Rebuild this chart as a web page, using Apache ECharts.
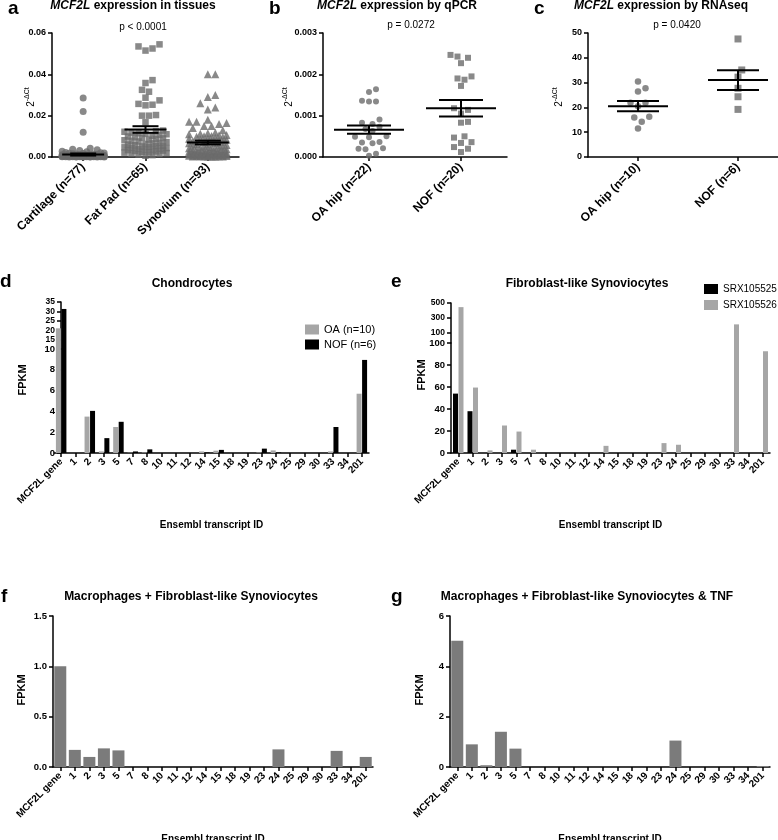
<!DOCTYPE html>
<html><head><meta charset="utf-8">
<script src="https://cdn.jsdelivr.net/npm/echarts@6/dist/echarts.min.js"></script>
<style>html,body{margin:0;padding:0;background:#fff}#c{width:778px;height:840px}</style>
</head><body><div id="c"></div>
<script>
// ---------------- data ----------------
const tissueCats = ['Cartilage (n=77)', 'Fat Pad (n=65)', 'Synovium (n=93)'];
const cartilage = [0.0285,0.022,0.012,0.0042,0.0038,0.0035,0.0031,0.0028,0.0025,0.0022,
  0.002,0.0019,0.0018,0.0017,0.0016,0.0015,0.0014,0.0013,0.0012,0.0012,
  0.0011,0.0011,0.001,0.001,0.0009,0.0009,0.0009,0.0008,0.0008,0.0008,
  0.0007,0.0007,0.0007,0.0007,0.0006,0.0006,0.0006,0.0006,0.0005,0.0005,
  0.0005,0.0005,0.0005,0.0004,0.0004,0.0004,0.0004,0.0004,0.0003,0.0003,
  0.0003,0.0003,0.0003,0.0003,0.0002,0.0002,0.0002,0.0002,0.0002,0.0002,
  0.0002,0.0001,0.0001,0.0001,0.0001,0.0001,0.0001,0.0001,0.0001,0.0001,
  0.0001,0.00005,0.00005,0.00005,0.00005,0.00005,0.00005];
const fatPad = [0.0535,0.0515,0.0525,0.0545,0.0372,0.0358,0.0325,0.0316,0.0287,0.0274,
  0.025,0.0253,0.0257,0.020,0.0203,0.020,0.0168,
  0.0128,0.0125,0.0122,0.0118,0.0115,0.0112,0.011,0.0106,0.0102,0.0099,
  0.0096,0.0093,0.009,0.0087,0.0084,0.0081,0.0078,0.0075,0.0072,0.0069,
  0.0066,0.0063,0.006,0.0057,0.0055,0.0053,0.0051,0.0049,0.0047,0.0045,
  0.0043,0.0041,0.0039,0.0037,0.0035,0.0033,0.0031,0.0029,0.0027,0.0025,
  0.0023,0.0021,0.0019,0.0017,0.0015,0.0012,0.0009,0.0006];
const synovium = [0.040,0.040,0.030,0.029,0.026,0.024,0.023,0.018,0.017,0.017,0.0165,0.016,0.015,0.015,0.014,0.013,
  0.0118,0.0115,0.0112,0.011,0.0107,0.0105,0.0102,0.01,0.0098,0.0096,
  0.0093,0.0091,0.0088,0.0086,0.0083,0.0081,0.0078,0.0076,0.0073,0.0071,
  0.0068,0.0066,0.0063,0.0061,0.0058,0.0056,0.0054,0.0052,0.005,0.0048,
  0.0046,0.0044,0.0042,0.004,0.0038,0.0036,0.0035,0.0033,0.0032,0.003,
  0.0029,0.0027,0.0026,0.0025,0.0023,0.0022,0.0021,0.002,0.0019,0.0018,
  0.0017,0.0016,0.0015,0.0014,0.0013,0.0012,0.0011,0.001,0.001,0.0009,
  0.0009,0.0008,0.0008,0.0007,0.0007,0.0006,0.0006,0.0005,0.0005,0.0004,
  0.0004,0.0003,0.0003,0.0002,0.0002,0.0001,0.0001];
const tissueMean = [0.0012, 0.0133, 0.0070];
const tissueSem = [0.0005, 0.0016, 0.0009];

const qpcrCats = ['OA hip (n=22)', 'NOF (n=20)'];
const qpcrOA = [0.00164,0.00157,0.00136,0.00134,0.00134,0.00091,0.00083,0.00080,0.00073,0.00068,0.00063,
  0.00050,0.00049,0.00048,0.00036,0.00035,0.00033,0.00021,0.00019,0.00020,0.00008,0.00003];
const qpcrNOF = [0.00247,0.00243,0.0024,0.00227,0.00195,0.0019,0.00187,0.00172,0.00118,0.00114,
  0.00105,0.00085,0.00083,0.0005,0.00047,0.00036,0.00034,0.00024,0.0002,0.00012];
const qpcrMean = [0.00066, 0.00118];
const qpcrSem = [0.0001, 0.0002];

const rnaCats = ['OA hip (n=10)', 'NOF (n=6)'];
const rnaOA = [30.4,27.7,26.4,21.9,21.9,20.5,16.2,15.9,14.2,11.5];
const rnaNOF = [47.6,35.1,32.2,27.7,24.3,19.2];
const rnaMean = [20.5, 31.0];
const rnaSem = [2.1, 4.0];

const transcripts = ['MCF2L gene','1','2','3','5','7','8','10','11','12','14','15','18','19','23','24','25','29','30','33','34','201'];
const chondOA  = [21, 0, 3.5, 0.15, 2.5, 0.03, 0.05, 0, 0, 0, 0.15, 0.22, 0, 0, 0.05, 0.25, 0, 0, 0, 0.15, 0, 5.7];
const chondNOF = [31.3, 0, 4.05, 1.43, 3.0, 0.15, 0.35, 0, 0, 0, 0.05, 0.3, 0, 0, 0.42, 0.05, 0, 0, 0, 2.5, 0, 8.95];
const flsSRX525 = [54, 38, 0, 0, 3, 0, 0, 0, 0, 0, 0, 0, 0, 0, 0, 0, 0, 0, 0, 0, 0, 0];
const flsSRX526 = [445, 59.5, 2.4, 25, 19.5, 3, 0, 0, 0, 0, 6.5, 0, 0, 0, 9, 7.5, 0, 0, 0, 215, 0, 92.5];
const macFls    = [1.0, 0.17, 0.10, 0.185, 0.165, 0, 0, 0, 0, 0, 0, 0, 0, 0, 0, 0.175, 0, 0, 0, 0.16, 0, 0.10];
const macFlsTnf = [5.02, 0.9, 0.07, 1.4, 0.73, 0, 0, 0, 0, 0, 0, 0, 0, 0, 0, 1.05, 0, 0, 0, 0, 0, 0.04];
const flsUpperTicks = [100, 200, 300, 400, 500];

// ---------------- helpers ----------------
const FF = 'Liberation Sans';
const PT = '#6b6b6b';
function swarm(vals, yMin, yMax, hPx, d, maxHalf) {
  const s = hPx / (yMax - yMin);
  const order = vals.map((v, i) => i).sort((a, b) => vals[a] - vals[b]);
  const pts = []; const off = new Array(vals.length).fill(0);
  const cands = [0];
  for (let k = 1; k * d / 2 <= maxHalf + 0.01; k++) { cands.push(k * d / 2); cands.push(-k * d / 2); }
  for (const i of order) {
    const y = (vals[i] - yMin) * s;
    let best = 0, bestD = -1;
    for (const x of cands) {
      let md = Infinity;
      for (const p of pts) { const dy = y - p[1]; if (Math.abs(dy) >= d) continue; const dd = Math.hypot(x - p[0], dy); if (dd < md) md = dd; }
      if (md >= d * 0.98) { best = x; bestD = Infinity; break; }
      if (md > bestD) { bestD = md; best = x; }
    }
    pts.push([best, y]); off[i] = best;
  }
  return off;
}
function swarmSeries(vals, cat, xi, yi, yMin, yMax, symbol, size, d, maxHalf) {
  const off = swarm(vals, yMin, yMax, 124, d, maxHalf);
  return { type: 'scatter', xAxisIndex: xi, yAxisIndex: yi, symbol, symbolSize: size,
    itemStyle: { color: PT }, z: 3,
    data: vals.map((v, i) => ({ value: [cat, v], symbolOffset: [off[i], 0] })) };
}
function meanSem(xi, yi, means, sems, halfMean, halfCap) {
  return { type: 'custom', xAxisIndex: xi, yAxisIndex: yi, z: 10,
    data: means.map((m, i) => [i, m, sems[i]]),
    renderItem: function (params, api) {
      const c = api.coord([api.value(0), api.value(1)]);
      const t = api.coord([api.value(0), api.value(1) + api.value(2)]);
      const b = api.coord([api.value(0), api.value(1) - api.value(2)]);
      const st = { stroke: '#000', lineWidth: 2 };
      return { type: 'group', children: [
        { type: 'line', shape: { x1: c[0] - halfMean, y1: c[1], x2: c[0] + halfMean, y2: c[1] }, style: st },
        { type: 'line', shape: { x1: c[0], y1: t[1], x2: c[0], y2: b[1] }, style: st },
        { type: 'line', shape: { x1: c[0] - halfCap, y1: t[1], x2: c[0] + halfCap, y2: t[1] }, style: st },
        { type: 'line', shape: { x1: c[0] - halfCap, y1: b[1], x2: c[0] + halfCap, y2: b[1] }, style: st }
      ] };
    } };
}
const axLine = { show: true, lineStyle: { color: '#000', width: 1.5 } };
const axTick = { show: true, length: 4, lineStyle: { color: '#000', width: 1.5 } };
function lbl(fs, margin, extra) {
  return Object.assign({ fontSize: fs, fontWeight: 'bold', color: '#000', margin, fontFamily: FF,
    hideOverlap: false, showMinLabel: true, showMaxLabel: true }, extra || {});
}
function topX(grid, cats) {
  return { type: 'category', gridIndex: grid, data: cats, boundaryGap: true,
    axisLine: axLine, axisTick: { ...axTick, alignWithLabel: true },
    axisLabel: lbl(12, 8, { rotate: 45, interval: 0 }) };
}
function topY(grid, max, interval, dec) {
  return { type: 'value', gridIndex: grid, min: 0, max, interval,
    axisLine: axLine, axisTick: axTick, splitLine: { show: false },
    axisLabel: lbl(9, 6, { formatter: v => v.toFixed(dec) }) };
}
function botX(grid, show, name) {
  return { type: 'category', gridIndex: grid, data: transcripts, show, boundaryGap: true,
    axisLine: axLine, axisTick: { ...axTick, alignWithLabel: true, interval: 0 },
    axisLabel: lbl(10, 7, { rotate: 45, interval: 0 }),
    name, nameLocation: 'middle', nameGap: 67,
    nameTextStyle: { fontSize: 10, fontWeight: 'bold', color: '#000', fontFamily: FF } };
}
function botY(grid, opt, label) {
  return Object.assign({ type: 'value', gridIndex: grid, axisLine: axLine,
    axisTick: { show: true, length: 4, lineStyle: { color: '#000', width: 1.5 } }, splitLine: { show: false },
    axisLabel: label }, opt);
}
function upperOnly(arr, cut) { return arr.map(v => v > cut ? v : '-'); }
function lowerPart(arr, cut) { return arr.map(v => Math.min(v, cut)); }
function bar(name, data, xi, yi, color, w) {
  return { type: 'bar', name, data, xAxisIndex: xi, yAxisIndex: yi, barWidth: w, barGap: '10%',
    itemStyle: { color }, clip: true };
}
function txt(x, y, text, font, align, extra) {
  return Object.assign({ type: 'text', x, y, silent: true,
    style: { text, font, fill: '#000', align: align || 'center', verticalAlign: 'middle' } }, extra || {});
}
function titleRich(x, y, rest) {
  return { type: 'text', x, y, silent: true, style: { text: '{i|MCF2L}{n|' + rest + '}', align: 'center', verticalAlign: 'middle',
    rich: { i: { fontStyle: 'italic', fontWeight: 'bold', fontSize: 12, fontFamily: FF, fill: '#000' },
            n: { fontWeight: 'bold', fontSize: 12, fontFamily: FF, fill: '#000' } } } };
}
function dct(x, y) {
  return { type: 'text', x, y, rotation: Math.PI / 2, silent: true, style: { text: '{b|2}{s|-ΔCt}', align: 'center', verticalAlign: 'middle',
    rich: { b: { fontSize: 10, fontFamily: FF, fill: '#000', lineHeight: 12, verticalAlign: 'bottom' },
            s: { fontSize: 7, fontFamily: FF, fill: '#000', lineHeight: 12, verticalAlign: 'top' } } } };
}

// ---------------- chart ----------------
const chart = echarts.init(document.getElementById('c'), null, { renderer: 'canvas' });
const grey = '#a6a6a6';
const option = {
  animation: false,
  backgroundColor: '#fff',
  textStyle: { fontFamily: FF },
  grid: [
    { left: 52, top: 33, width: 187, height: 124 },
    { left: 323, top: 33, width: 184, height: 124 },
    { left: 588, top: 33, width: 200, height: 124 },
    { left: 54, top: 302, width: 315, height: 47 },
    { left: 54, top: 349, width: 315, height: 104 },
    { left: 451, top: 303, width: 319, height: 40 },
    { left: 451, top: 343, width: 319, height: 110 },
    { left: 53, top: 616, width: 320, height: 151 },
    { left: 450, top: 616, width: 320, height: 151 }
  ].map(g => Object.assign(g, { containLabel: false, outerBoundsMode: 'none' })),
  xAxis: [
    topX(0, tissueCats), topX(1, qpcrCats), topX(2, rnaCats),
    botX(3, false, ''), botX(4, true, 'Ensembl transcript ID'),
    botX(5, false, ''), botX(6, true, 'Ensembl transcript ID'),
    botX(7, true, 'Ensembl transcript ID'), botX(8, true, 'Ensembl transcript ID')
  ],
  yAxis: [
    topY(0, 0.06, 0.02, 2), topY(1, 0.003, 0.001, 3), topY(2, 50, 10, 0),
    botY(3, { min: 10, max: 35, interval: 5, offset: -7 }, lbl(8.5, 6, { showMinLabel: false })),
    botY(4, { min: 0, max: 10, interval: 2, offset: -7 }, lbl(9.5, 6)),
    botY(5, { min: -33.3333, max: 500, startValue: -33.3333,
      axisTick: { show: true, length: 4, customValues: flsUpperTicks, lineStyle: { color: '#000', width: 1.5 } } },
      lbl(8.5, 6, { customValues: flsUpperTicks })),
    botY(6, { min: 0, max: 100, interval: 20 }, lbl(9.5, 6)),
    botY(7, { min: 0, max: 1.5, interval: 0.5 }, lbl(9.5, 6, { formatter: v => v.toFixed(1) })),
    botY(8, { min: 0, max: 6, interval: 2 }, lbl(9.5, 6))
  ],
  legend: [
    { data: ['OA (n=10)', 'NOF (n=6)'], orient: 'vertical', left: 300, top: 319, itemWidth: 14, itemHeight: 10, itemGap: 4,
      icon: 'rect', textStyle: { fontSize: 11, color: '#000', fontFamily: FF }, selectedMode: false },
    { data: ['SRX105525', 'SRX105526'], orient: 'vertical', left: 699, top: 279, itemWidth: 14, itemHeight: 10, itemGap: 6,
      icon: 'rect', textStyle: { fontSize: 10, color: '#000', fontFamily: FF }, selectedMode: false }
  ],
  series: [
    swarmSeries(cartilage, 0, 0, 0, 0, 0.06, 'circle', 7, 7, 21),
    swarmSeries(fatPad, 1, 0, 0, 0, 0.06, 'rect', 6.5, 7, 21),
    swarmSeries(synovium, 2, 0, 0, 0, 0.06, 'triangle', 8, 7.5, 21),
    meanSem(0, 0, tissueMean, tissueSem, 21, 13),
    swarmSeries(qpcrOA, 0, 1, 1, 0, 0.003, 'circle', 6, 7, 21),
    swarmSeries(qpcrNOF, 1, 1, 1, 0, 0.003, 'rect', 6, 7, 21),
    meanSem(1, 1, qpcrMean, qpcrSem, 35, 22),
    swarmSeries(rnaOA, 0, 2, 2, 0, 50, 'circle', 6.5, 7.5, 21),
    swarmSeries(rnaNOF, 1, 2, 2, 0, 50, 'rect', 7, 7.5, 21),
    meanSem(2, 2, rnaMean, rnaSem, 30, 21),
    bar('OA (n=10)', upperOnly(chondOA, 10), 3, 3, grey, 5),
    bar('NOF (n=6)', upperOnly(chondNOF, 10), 3, 3, '#000', 5),
    bar('OA (n=10)', lowerPart(chondOA, 10), 4, 4, grey, 5),
    bar('NOF (n=6)', lowerPart(chondNOF, 10), 4, 4, '#000', 5),
    bar('SRX105525', upperOnly(flsSRX525, 100), 5, 5, '#000', 5),
    bar('SRX105526', upperOnly(flsSRX526, 100), 5, 5, grey, 5),
    bar('SRX105525', lowerPart(flsSRX525, 100), 6, 6, '#000', 5),
    bar('SRX105526', lowerPart(flsSRX526, 100), 6, 6, grey, 5),
    bar('Macrophages + FLS', macFls, 7, 7, '#7b7b7b', 12),
    bar('Macrophages + FLS & TNF', macFlsTnf, 8, 8, '#7b7b7b', 12)
  ],
  graphic: [
    txt(8, 9, 'a', 'bold 19px "Liberation Sans"', 'left'),
    txt(269, 9, 'b', 'bold 19px "Liberation Sans"', 'left'),
    txt(534, 9, 'c', 'bold 19px "Liberation Sans"', 'left'),
    txt(0, 282, 'd', 'bold 19px "Liberation Sans"', 'left'),
    txt(391, 282, 'e', 'bold 19px "Liberation Sans"', 'left'),
    txt(1, 597, 'f', 'bold 19px "Liberation Sans"', 'left'),
    txt(391, 597, 'g', 'bold 19px "Liberation Sans"', 'left'),
    titleRich(133, 6, ' expression in tissues'),
    titleRich(397, 6, ' expression by qPCR'),
    titleRich(661, 6, ' expression by RNAseq'),
    txt(143, 27, 'p < 0.0001', '10px "Liberation Sans"'),
    txt(411, 25, 'p = 0.0272', '10px "Liberation Sans"'),
    txt(677, 25, 'p = 0.0420', '10px "Liberation Sans"'),
    dct(30, 97), dct(288, 97), dct(558, 97),
    txt(192, 284, 'Chondrocytes', 'bold 12px "Liberation Sans"'),
    txt(587, 284, 'Fibroblast-like Synoviocytes', 'bold 12px "Liberation Sans"'),
    txt(191, 597, 'Macrophages + Fibroblast-like Synoviocytes', 'bold 12px "Liberation Sans"'),
    txt(587, 597, 'Macrophages + Fibroblast-like Synoviocytes & TNF', 'bold 12px "Liberation Sans"'),
    txt(23, 380, 'FPKM', 'bold 11px "Liberation Sans"', 'center', { rotation: Math.PI / 2 }),
    txt(422, 375, 'FPKM', 'bold 11px "Liberation Sans"', 'center', { rotation: Math.PI / 2 }),
    txt(22, 690, 'FPKM', 'bold 11px "Liberation Sans"', 'center', { rotation: Math.PI / 2 }),
    txt(420, 690, 'FPKM', 'bold 11px "Liberation Sans"', 'center', { rotation: Math.PI / 2 })
  ]
};
chart.setOption(option);
</script>
</body></html>
